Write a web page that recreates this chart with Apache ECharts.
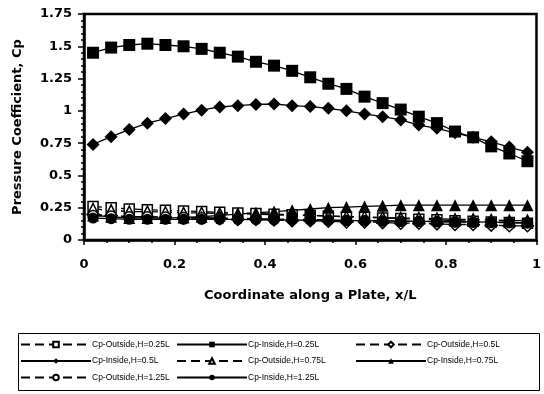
<!DOCTYPE html>
<html>
<head>
<meta charset="utf-8">
<script src="https://cdn.jsdelivr.net/npm/echarts@6/dist/echarts.min.js"></script>
<style>
html,body{margin:0;padding:0;background:#fff;}
#c{width:544px;height:394px;}
</style>
</head>
<body>
<div id="c"></div>
<script>
var xPos = [0.02,0.06,0.10,0.14,0.18,0.22,0.26,0.30,0.34,0.38,0.42,0.46,0.50,0.54,0.58,0.62,0.66,0.70,0.74,0.78,0.82,0.86,0.90,0.94,0.98];
var outside025 = [0.26,0.25,0.24,0.235,0.23,0.225,0.22,0.215,0.21,0.205,0.20,0.195,0.19,0.186,0.18,0.176,0.17,0.166,0.16,0.156,0.15,0.146,0.14,0.136,0.13];
var inside025 = [1.45,1.49,1.51,1.52,1.51,1.50,1.48,1.45,1.42,1.38,1.35,1.31,1.26,1.21,1.17,1.11,1.06,1.01,0.955,0.905,0.84,0.795,0.725,0.67,0.61];
var outside05 = [0.20,0.19,0.18,0.18,0.175,0.17,0.17,0.165,0.16,0.16,0.155,0.15,0.15,0.145,0.14,0.14,0.135,0.13,0.13,0.125,0.12,0.12,0.115,0.11,0.11];
var inside05 = [0.74,0.80,0.855,0.905,0.94,0.975,1.005,1.03,1.04,1.05,1.053,1.04,1.033,1.02,1.0,0.976,0.955,0.93,0.89,0.865,0.83,0.795,0.76,0.72,0.68];
var outside075 = [0.24,0.23,0.22,0.22,0.215,0.21,0.21,0.205,0.20,0.20,0.195,0.19,0.19,0.185,0.18,0.18,0.175,0.17,0.17,0.165,0.16,0.16,0.155,0.15,0.15];
var inside075 = [0.19,0.18,0.17,0.17,0.17,0.175,0.18,0.19,0.20,0.21,0.22,0.23,0.24,0.25,0.255,0.26,0.265,0.27,0.27,0.27,0.27,0.27,0.27,0.27,0.27];
var outside125 = [0.19,0.185,0.18,0.18,0.178,0.175,0.172,0.17,0.168,0.165,0.162,0.16,0.158,0.155,0.152,0.15,0.148,0.146,0.144,0.142,0.14,0.138,0.136,0.134,0.132];
var inside125 = [0.17,0.165,0.16,0.16,0.16,0.16,0.16,0.16,0.16,0.158,0.156,0.155,0.154,0.152,0.15,0.15,0.148,0.146,0.145,0.143,0.14,0.14,0.138,0.136,0.135];
var seriesNames = ['Cp-Outside,H=0.25L','Cp-Inside,H=0.25L','Cp-Outside,H=0.5L','Cp-Inside,H=0.5L','Cp-Outside,H=0.75L','Cp-Inside,H=0.75L','Cp-Outside,H=1.25L','Cp-Inside,H=1.25L'];

function pairs(ys){ return xPos.map(function(x,i){ return [x, ys[i]]; }); }

function mk(name, ys, symbol, size, open, dashed){
  return {
    name: name, type: 'line', data: pairs(ys),
    symbol: symbol, symbolSize: size, showSymbol: true,
    lineStyle: {color:'#000', width:1.3, type: dashed ? [9,5] : 'solid'},
    itemStyle: open ? {color:'#fff', borderColor:'#000', borderWidth:1.5} : {color:'#000', borderColor:'#000', borderWidth:0},
    emphasis: {disabled:true},
    animation: false
  };
}

var boldFont = '"DejaVu Sans", sans-serif';
var font = 'Arial, "Liberation Sans", sans-serif';
var legendCommon = {
  orient: 'vertical', itemWidth: 70, itemHeight: 7, itemGap: 7.5,
  textStyle: {fontFamily: font, fontSize: 8.5, color:'#000', padding:[0,0,0,-4]},
  selectedMode: false, padding: 0
};

var chart = echarts.init(document.getElementById('c'), null, {renderer:'canvas'});
chart.setOption({
  backgroundColor: '#fff',
  animation: false,
  grid: {left: 84, right: 5, top: 14, bottom: 154, show: true, borderColor: '#000', borderWidth: 2.5, backgroundColor: 'transparent'},
  xAxis: {
    type: 'value', min: 0, max: 1, interval: 0.2,
    name: 'Coordinate along a Plate, x/L', nameLocation: 'middle', nameGap: 49,
    nameTextStyle: {fontFamily: boldFont, fontSize: 13, fontWeight: 'bold', color:'#000'},
    axisLine: {show: true, lineStyle: {color:'#000', width: 2.5}},
    axisTick: {show: true, inside: false, length: 5, lineStyle: {color:'#000', width: 1.5}},
    minorTick: {show: true, splitNumber: 4, length: 3, lineStyle: {color:'#000', width: 1.5}},
    splitLine: {show: false},
    axisLabel: {fontFamily: boldFont, fontSize: 13, fontWeight: 'bold', color:'#000', margin: 18}
  },
  yAxis: {
    type: 'value', min: 0, max: 1.75, interval: 0.25,
    name: 'Pressure Coefficient, Cp', nameLocation: 'middle', nameGap: 60,
    nameTextStyle: {fontFamily: boldFont, fontSize: 13, fontWeight: 'bold', color:'#000'},
    axisLine: {show: true, lineStyle: {color:'#000', width: 2.5}},
    axisTick: {show: true, inside: false, length: 6, lineStyle: {color:'#000', width: 1.5}},
    minorTick: {show: true, splitNumber: 5, length: 3, lineStyle: {color:'#000', width: 1.5}},
    splitLine: {show: false},
    axisLabel: {fontFamily: boldFont, fontSize: 13, fontWeight: 'bold', color:'#000', margin: 12}
  },
  legend: [
    Object.assign({}, legendCommon, {left: 20, top: 340, data: [seriesNames[0], seriesNames[3], seriesNames[6]]}),
    Object.assign({}, legendCommon, {left: 176, top: 340, data: [seriesNames[1], seriesNames[4], seriesNames[7]]}),
    Object.assign({}, legendCommon, {left: 355, top: 340, data: [seriesNames[2], seriesNames[5]]})
  ],
  graphic: [{
    type: 'rect', shape: {x: 18.5, y: 333.5, width: 521, height: 57},
    style: {fill: 'none', stroke: '#000', lineWidth: 1}, silent: true
  }],
  series: [
    mk(seriesNames[0], outside025, 'rect', 10, true, true),
    mk(seriesNames[1], inside025, 'rect', 12, false, false),
    mk(seriesNames[2], outside05, 'diamond', 12, true, true),
    mk(seriesNames[3], inside05, 'diamond', 13, false, false),
    mk(seriesNames[4], outside075, 'triangle', 11, true, true),
    mk(seriesNames[5], inside075, 'triangle', 12, false, false),
    mk(seriesNames[6], outside125, 'circle', 10, true, true),
    mk(seriesNames[7], inside125, 'circle', 11, false, false)
  ]
});
</script>
</body>
</html>
